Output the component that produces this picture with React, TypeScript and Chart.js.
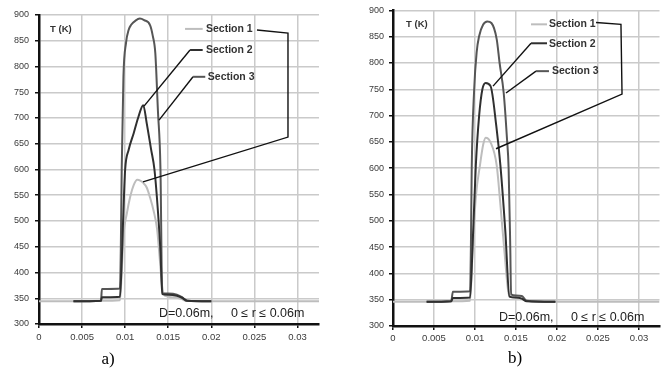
import React, { useEffect, useRef } from "react";
import { Chart, registerables } from "chart.js";
Chart.register(...registerables);

// ---- shared ticks ----
const xTicks = [0, 0.005, 0.01, 0.015, 0.02, 0.025, 0.03];
const xTickLabels = ["0", "0.005", "0.01", "0.015", "0.02", "0.025", "0.03"];
const yTicks = [300, 350, 400, 450, 500, 550, 600, 650, 700, 750, 800, 850, 900];
const seriesNames = ["Section 1", "Section 2", "Section 3"];

// ---- panel a) data ----
const aS1X = [0, 0.004, 0.0072, 0.0094, 0.0096, 0.0098, 0.0102, 0.0106, 0.011, 0.0114, 0.0118, 0.0121, 0.0125, 0.0129, 0.0133, 0.0137, 0.014, 0.0143, 0.0146, 0.0155, 0.0165, 0.017, 0.02, 0.0325];
const aS1Y = [344, 344, 345, 346, 400, 470, 515, 548, 570, 580, 578, 574, 565, 545, 520, 485, 430, 372, 355, 352, 349, 345, 344, 344];
const aS2X = [0.004, 0.0072, 0.0073, 0.0094, 0.0096, 0.0098, 0.01, 0.0104, 0.011, 0.0115, 0.0121, 0.0125, 0.013, 0.0134, 0.0138, 0.0141, 0.0143, 0.015, 0.016, 0.0166, 0.0172, 0.02];
const aS2Y = [344, 345, 352, 353, 420, 520, 600, 638, 671, 700, 725, 690, 640, 600, 520, 440, 358, 357, 355, 351, 345, 344];
const aS3X = [0.004, 0.0072, 0.0073, 0.0094, 0.0095, 0.0096, 0.0098, 0.0101, 0.0104, 0.0107, 0.0112, 0.0117, 0.0122, 0.0129, 0.0132, 0.0135, 0.0138, 0.0141, 0.0143, 0.015, 0.016, 0.0166, 0.0172, 0.02];
const aS3Y = [344, 345, 368, 369, 450, 600, 780, 846, 871, 881, 889, 893, 890, 880, 860, 826, 715, 600, 360, 359, 357, 352, 345, 344];

// ---- panel b) data ----
const bS1X = [0, 0.0041, 0.0071, 0.0094, 0.0097, 0.0101, 0.0106, 0.011, 0.0113, 0.0119, 0.01265, 0.0131, 0.0136, 0.0141, 0.0145, 0.0155, 0.0163, 0.0198, 0.0325];
const bS1Y = [346, 346, 347, 348, 440, 545, 605, 645, 658, 649, 605, 530, 440, 362, 355, 353, 348, 346, 346];
const bS2X = [0.0041, 0.0071, 0.0073, 0.0094, 0.0097, 0.0101, 0.0105, 0.0109, 0.0113, 0.0119, 0.0126, 0.0131, 0.0137, 0.0142, 0.015, 0.0157, 0.0163, 0.0198];
const bS2Y = [346, 347, 353, 354, 450, 605, 699, 750, 762, 756, 680, 605, 480, 356, 354, 352, 347, 346];
const bS3X = [0.0041, 0.0071, 0.0073, 0.0094, 0.0095, 0.0096, 0.0099, 0.0102, 0.0105, 0.011, 0.0115, 0.012, 0.01265, 0.013, 0.0135, 0.0139, 0.0141, 0.0143, 0.0144, 0.015, 0.0157, 0.0163, 0.0198];
const bS3Y = [346, 347, 365, 366, 450, 600, 750, 820, 851, 873, 879, 876, 845, 800, 743, 656, 600, 450, 360, 358, 357, 348, 346];

const axisLabel = "T (K)";
const noteText = "D=0.06m,     0 \u2264 r \u2264 0.06m";

const COLORS = ["#bdbdbd", "#303030", "#565656"];
const FONT = '"Liberation Sans", Arial, sans-serif';

type Pt = [number, number];
interface Panel {
  s: { x: number[]; y: number[] }[];
  yWidth: number;
  padding: { top: number; right: number; bottom: number; left: number };
  yLabelPad: number;
  xLabelPad: number;
  tk: Pt;
  swatches: Pt[][];
  textPos: Pt[];
  leaders: Pt[][];
  note: Pt;
}

const panelA: Panel = {
  s: [
    { x: aS1X, y: aS1Y },
    { x: aS2X, y: aS2Y },
    { x: aS3X, y: aS3Y },
  ],
  yWidth: 39,
  padding: { top: 15, right: 15, bottom: 23, left: 0 },
  yLabelPad: 6,
  xLabelPad: 4,
  tk: [0.00128, 873],
  swatches: [
    [[0.01695, 873], [0.019, 873]],
    [[0.01753, 832], [0.019, 832]],
    [[0.01788, 780], [0.0193, 780]],
  ],
  textPos: [[0.01938, 873], [0.01938, 831], [0.0196, 780]],
  leaders: [
    [[0.0253, 871], [0.0289, 865], [0.0289, 663], [0.01207, 576]],
    [[0.01753, 832], [0.01219, 723]],
    [[0.01788, 780], [0.01393, 696]],
  ],
  note: [0.01393, 321],
};

const panelB: Panel = {
  s: [
    { x: bS1X, y: bS1Y },
    { x: bS2X, y: bS2Y },
    { x: bS3X, y: bS3Y },
  ],
  yWidth: 59,
  padding: { top: 9, right: 8.5, bottom: 21, left: 0 },
  yLabelPad: 5,
  xLabelPad: 3,
  tk: [0.00159, 873.5],
  swatches: [
    [[0.01683, 873.5], [0.01878, 873.5]],
    [[0.01683, 837.5], [0.01878, 837.5]],
    [[0.01744, 784.5], [0.01902, 784.5]],
  ],
  textPos: [[0.01902, 873.5], [0.01902, 836], [0.01939, 784.5]],
  leaders: [
    [[0.02476, 877], [0.0278, 873.5], [0.02793, 741], [0.01256, 637]],
    [[0.01683, 837.5], [0.0122, 756]],
    [[0.01744, 784.5], [0.01378, 743]],
  ],
  note: [0.01293, 317],
};

function makeAnnot(p: Panel) {
  return {
    id: "annot",
    afterDatasetsDraw(chart: any) {
      const ctx = chart.ctx;
      const xs = chart.scales.x;
      const ys = chart.scales.y;
      const px = (v: Pt): Pt => [xs.getPixelForValue(v[0]), ys.getPixelForValue(v[1])];
      ctx.save();
      ctx.strokeStyle = "#111";
      ctx.lineWidth = 1.4;
      p.leaders.forEach((l) => {
        ctx.beginPath();
        l.forEach((pt, i) => {
          const [x, y] = px(pt);
          if (i === 0) ctx.moveTo(x, y);
          else ctx.lineTo(x, y);
        });
        ctx.stroke();
      });
      p.swatches.forEach((sw, i) => {
        ctx.strokeStyle = COLORS[i];
        ctx.lineWidth = 2;
        ctx.beginPath();
        const a = px(sw[0]);
        const b = px(sw[1]);
        ctx.moveTo(a[0], a[1]);
        ctx.lineTo(b[0], b[1]);
        ctx.stroke();
      });
      ctx.fillStyle = "#333";
      ctx.textBaseline = "middle";
      ctx.textAlign = "left";
      ctx.font = `bold 10.5px ${FONT}`;
      p.textPos.forEach((t, i) => {
        const [x, y] = px(t);
        ctx.fillText(seriesNames[i], x, y);
      });
      ctx.font = `bold 9.5px ${FONT}`;
      const tk = px(p.tk);
      ctx.fillText(axisLabel, tk[0], tk[1]);
      ctx.fillStyle = "#222";
      ctx.font = `12.5px ${FONT}`;
      const nt = px(p.note);
      ctx.fillText(noteText, nt[0], nt[1]);
      ctx.restore();
    },
  };
}

function build(canvas: HTMLCanvasElement, p: Panel) {
  const order = [1, 2, 0];
  const datasets = order.map((i) => ({
    label: seriesNames[i],
    data: p.s[i].x.map((x, k) => ({ x, y: p.s[i].y[k] })),
    borderColor: COLORS[i],
    borderWidth: 2,
    pointRadius: 0,
    fill: false,
    cubicInterpolationMode: "monotone" as const,
  }));
  return new Chart(canvas, {
    type: "line",
    data: { datasets },
    plugins: [makeAnnot(p)],
    options: {
      animation: false,
      responsive: false,
      devicePixelRatio: 1,
      layout: { padding: p.padding },
      plugins: { legend: { display: false }, tooltip: { enabled: false } },
      scales: {
        x: {
          type: "linear",
          min: 0,
          max: 0.0325,
          afterBuildTicks: (s: any) => {
            s.ticks = xTicks.map((v) => ({ value: v }));
          },
          afterFit: (s: any) => {
            s.height = 30;
          },
          grid: { color: "#cacaca", lineWidth: 1.5, tickLength: 4, tickColor: "#111", tickWidth: 1.5 },
          border: { display: true, color: "#111", width: 2.5 },
          ticks: {
            padding: p.xLabelPad,
            maxRotation: 0,
            autoSkip: false,
            color: "#3a3a3a",
            font: { family: FONT, size: 9.5 },
            callback: (v: any) => {
              const i = xTicks.indexOf(Number(v));
              return i >= 0 ? xTickLabels[i] : "";
            },
          },
        },
        y: {
          type: "linear",
          min: 300,
          max: 900,
          afterBuildTicks: (s: any) => {
            s.ticks = yTicks.map((v) => ({ value: v }));
          },
          afterFit: (s: any) => {
            s.width = p.yWidth;
          },
          grid: { color: "#cacaca", lineWidth: 1.5, tickLength: 4, tickColor: "#111", tickWidth: 1.5 },
          border: { display: true, color: "#111", width: 2.5 },
          ticks: {
            padding: p.yLabelPad,
            color: "#3a3a3a",
            font: { family: FONT, size: 9 },
            callback: (v: any) => String(v),
          },
        },
      },
    } as any,
  });
}

export default function App() {
  const refA = useRef<HTMLCanvasElement>(null);
  const refB = useRef<HTMLCanvasElement>(null);
  useEffect(() => {
    const ca = build(refA.current!, panelA);
    const cb = build(refB.current!, panelB);
    return () => {
      ca.destroy();
      cb.destroy();
    };
  }, []);
  const cap: React.CSSProperties = {
    position: "absolute",
    fontFamily: '"Liberation Serif", "Times New Roman", serif',
    fontSize: 17,
    color: "#000",
    lineHeight: "20px",
    transform: "translateX(-50%)",
  };
  return (
    <div style={{ position: "fixed", left: 0, top: 0, width: 668, height: 377, background: "#fff", overflow: "hidden" }}>
      <canvas ref={refA} width={334} height={377} style={{ position: "absolute", left: 0, top: 0, width: 334, height: 377 }} />
      <canvas ref={refB} width={334} height={377} style={{ position: "absolute", left: 334, top: 0, width: 334, height: 377 }} />
      <div style={{ ...cap, left: 108, top: 349 }}>a)</div>
      <div style={{ ...cap, left: 515, top: 348 }}>b)</div>
    </div>
  );
}
